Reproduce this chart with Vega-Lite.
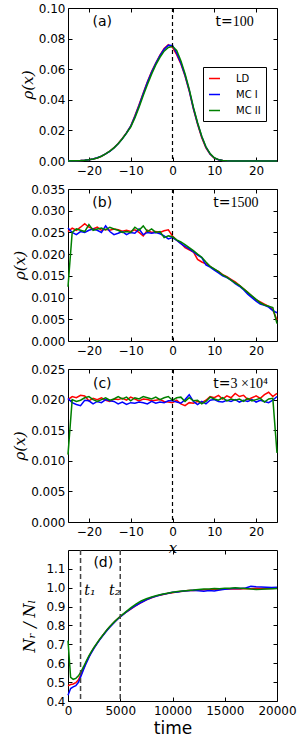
{
"$schema": "https://vega.github.io/schema/vega-lite/v6.json",
"background": "white",
"padding": {"left": 12, "top": 1, "right": 0, "bottom": 0},
"bounds": "flush",
"spacing": 28,
"resolve": {"scale": {"color": "independent"}, "legend": {"color": "independent"}},
"config": {
  "view": {"stroke": "black", "strokeWidth": 1},
  "axis": {"grid": false, "domain": false, "tickColor": "black", "tickSize": -4, "tickWidth": 1, "labelFont": "DejaVu Sans", "labelFontSize": 12, "labelColor": "black", "titleColor": "black", "titleFontWeight": "normal", "labelFlush": false, "labelOverlap": false, "labelBound": false},
  "axisX": {"labelPadding": 8},
  "axisY": {"labelPadding": 7, "titlePadding": 3, "titleFont": "DejaVu Serif", "titleFontStyle": "italic", "titleFontSize": 15}
},
"datasets": {
  "a": [
    {"x": -25, "LD": 0, "MC I": 0, "MC II": 0},
    {"x": -24, "LD": 0.0001, "MC I": 0.0001, "MC II": 0.0001},
    {"x": -23, "LD": 0.0002, "MC I": 0.0002, "MC II": 0.0002},
    {"x": -22, "LD": 0.0003, "MC I": 0.0003, "MC II": 0.0003},
    {"x": -21, "LD": 0.0005, "MC I": 0.0005, "MC II": 0.0005},
    {"x": -20, "LD": 0.0008, "MC I": 0.0008, "MC II": 0.0008},
    {"x": -19, "LD": 0.0013, "MC I": 0.0013, "MC II": 0.0013},
    {"x": -18, "LD": 0.0020, "MC I": 0.0021, "MC II": 0.0020},
    {"x": -17, "LD": 0.0031, "MC I": 0.0032, "MC II": 0.0031},
    {"x": -16, "LD": 0.0046, "MC I": 0.0046, "MC II": 0.0046},
    {"x": -15, "LD": 0.0064, "MC I": 0.0063, "MC II": 0.0064},
    {"x": -14, "LD": 0.0087, "MC I": 0.0085, "MC II": 0.0086},
    {"x": -13, "LD": 0.0115, "MC I": 0.0112, "MC II": 0.0113},
    {"x": -12, "LD": 0.0148, "MC I": 0.0145, "MC II": 0.0146},
    {"x": -11, "LD": 0.0185, "MC I": 0.0183, "MC II": 0.0182},
    {"x": -10, "LD": 0.0228, "MC I": 0.0227, "MC II": 0.0222},
    {"x": -9, "LD": 0.0295, "MC I": 0.0290, "MC II": 0.0282},
    {"x": -8, "LD": 0.0368, "MC I": 0.0362, "MC II": 0.0352},
    {"x": -7, "LD": 0.0445, "MC I": 0.0440, "MC II": 0.0428},
    {"x": -6, "LD": 0.0518, "MC I": 0.0515, "MC II": 0.0500},
    {"x": -5, "LD": 0.0585, "MC I": 0.0580, "MC II": 0.0568},
    {"x": -4, "LD": 0.0640, "MC I": 0.0638, "MC II": 0.0628},
    {"x": -3, "LD": 0.0692, "MC I": 0.0688, "MC II": 0.0678},
    {"x": -2, "LD": 0.0735, "MC I": 0.0730, "MC II": 0.0718},
    {"x": -1, "LD": 0.0760, "MC I": 0.0757, "MC II": 0.0742},
    {"x": 0, "LD": 0.0742, "MC I": 0.0755, "MC II": 0.0750},
    {"x": 1, "LD": 0.0695, "MC I": 0.0705, "MC II": 0.0722},
    {"x": 2, "LD": 0.0635, "MC I": 0.0640, "MC II": 0.0655},
    {"x": 3, "LD": 0.0555, "MC I": 0.0560, "MC II": 0.0570},
    {"x": 4, "LD": 0.0458, "MC I": 0.0462, "MC II": 0.0470},
    {"x": 5, "LD": 0.0340, "MC I": 0.0345, "MC II": 0.0352},
    {"x": 6, "LD": 0.0240, "MC I": 0.0245, "MC II": 0.0250},
    {"x": 7, "LD": 0.0152, "MC I": 0.0158, "MC II": 0.0162},
    {"x": 8, "LD": 0.0086, "MC I": 0.0090, "MC II": 0.0093},
    {"x": 9, "LD": 0.0044, "MC I": 0.0046, "MC II": 0.0048},
    {"x": 10, "LD": 0.0019, "MC I": 0.0020, "MC II": 0.0021},
    {"x": 11, "LD": 0.0008, "MC I": 0.0008, "MC II": 0.0009},
    {"x": 12, "LD": 0.0003, "MC I": 0.0003, "MC II": 0.0003},
    {"x": 13, "LD": 0.0001, "MC I": 0.0001, "MC II": 0.0001},
    {"x": 14, "LD": 0, "MC I": 0, "MC II": 0},
    {"x": 20, "LD": 0, "MC I": 0, "MC II": 0},
    {"x": 25, "LD": 0, "MC I": 0, "MC II": 0}
  ],
  "b": [
    {"x": -25, "LD": 0.0252, "MC I": 0.0260, "MC II": 0.0125},
    {"x": -24, "LD": 0.0260, "MC I": 0.0250, "MC II": 0.0250},
    {"x": -23, "LD": 0.0255, "MC I": 0.0245, "MC II": 0.0258},
    {"x": -22, "LD": 0.0262, "MC I": 0.0252, "MC II": 0.0255},
    {"x": -21, "LD": 0.0270, "MC I": 0.0250, "MC II": 0.0252},
    {"x": -20, "LD": 0.0262, "MC I": 0.0255, "MC II": 0.0268},
    {"x": -19, "LD": 0.0258, "MC I": 0.0258, "MC II": 0.0255},
    {"x": -18, "LD": 0.0262, "MC I": 0.0255, "MC II": 0.0258},
    {"x": -17, "LD": 0.0255, "MC I": 0.0250, "MC II": 0.0260},
    {"x": -16, "LD": 0.0257, "MC I": 0.0265, "MC II": 0.0256},
    {"x": -15, "LD": 0.0255, "MC I": 0.0252, "MC II": 0.0262},
    {"x": -14, "LD": 0.0258, "MC I": 0.0245, "MC II": 0.0258},
    {"x": -13, "LD": 0.0256, "MC I": 0.0248, "MC II": 0.0255},
    {"x": -12, "LD": 0.0253, "MC I": 0.0252, "MC II": 0.0250},
    {"x": -11, "LD": 0.0255, "MC I": 0.0245, "MC II": 0.0252},
    {"x": -10, "LD": 0.0252, "MC I": 0.0250, "MC II": 0.0250},
    {"x": -9, "LD": 0.0256, "MC I": 0.0248, "MC II": 0.0262},
    {"x": -8, "LD": 0.0250, "MC I": 0.0258, "MC II": 0.0255},
    {"x": -7, "LD": 0.0242, "MC I": 0.0245, "MC II": 0.0265},
    {"x": -6, "LD": 0.0255, "MC I": 0.0250, "MC II": 0.0252},
    {"x": -5, "LD": 0.0250, "MC I": 0.0248, "MC II": 0.0258},
    {"x": -4, "LD": 0.0252, "MC I": 0.0250, "MC II": 0.0250},
    {"x": -3, "LD": 0.0250, "MC I": 0.0247, "MC II": 0.0252},
    {"x": -2, "LD": 0.0254, "MC I": 0.0242, "MC II": 0.0238},
    {"x": -1, "LD": 0.0256, "MC I": 0.0235, "MC II": 0.0242},
    {"x": 0, "LD": 0.0242, "MC I": 0.0238, "MC II": 0.0240},
    {"x": 1, "LD": 0.0232, "MC I": 0.0232, "MC II": 0.0233},
    {"x": 2, "LD": 0.0225, "MC I": 0.0224, "MC II": 0.0228},
    {"x": 3, "LD": 0.0215, "MC I": 0.0218, "MC II": 0.0222},
    {"x": 4, "LD": 0.0210, "MC I": 0.0212, "MC II": 0.0215},
    {"x": 5, "LD": 0.0205, "MC I": 0.0205, "MC II": 0.0208},
    {"x": 6, "LD": 0.0188, "MC I": 0.0198, "MC II": 0.0200},
    {"x": 7, "LD": 0.0182, "MC I": 0.0192, "MC II": 0.0193},
    {"x": 8, "LD": 0.0178, "MC I": 0.0175, "MC II": 0.0182},
    {"x": 9, "LD": 0.0172, "MC I": 0.0170, "MC II": 0.0172},
    {"x": 10, "LD": 0.0165, "MC I": 0.0163, "MC II": 0.0166},
    {"x": 11, "LD": 0.0160, "MC I": 0.0157, "MC II": 0.0160},
    {"x": 12, "LD": 0.0153, "MC I": 0.0150, "MC II": 0.0152},
    {"x": 13, "LD": 0.0148, "MC I": 0.0146, "MC II": 0.0147},
    {"x": 14, "LD": 0.0142, "MC I": 0.0140, "MC II": 0.0140},
    {"x": 15, "LD": 0.0136, "MC I": 0.0132, "MC II": 0.0134},
    {"x": 16, "LD": 0.0128, "MC I": 0.0126, "MC II": 0.0128},
    {"x": 17, "LD": 0.0120, "MC I": 0.0118, "MC II": 0.0120},
    {"x": 18, "LD": 0.0112, "MC I": 0.0108, "MC II": 0.0112},
    {"x": 19, "LD": 0.0103, "MC I": 0.0100, "MC II": 0.0104},
    {"x": 20, "LD": 0.0095, "MC I": 0.0092, "MC II": 0.0096},
    {"x": 21, "LD": 0.0090, "MC I": 0.0085, "MC II": 0.0088},
    {"x": 22, "LD": 0.0085, "MC I": 0.0082, "MC II": 0.0083},
    {"x": 23, "LD": 0.0080, "MC I": 0.0078, "MC II": 0.0080},
    {"x": 24, "LD": 0.0072, "MC I": 0.0070, "MC II": 0.0077},
    {"x": 25, "LD": 0.0048, "MC I": 0.0065, "MC II": 0.0040}
  ],
  "c": [
    {"x": -25, "LD": 0.0200, "MC I": 0.0202, "MC II": 0.0110},
    {"x": -24, "LD": 0.0205, "MC I": 0.0195, "MC II": 0.0200},
    {"x": -23, "LD": 0.0203, "MC I": 0.0192, "MC II": 0.0197},
    {"x": -22, "LD": 0.0207, "MC I": 0.0190, "MC II": 0.0199},
    {"x": -21, "LD": 0.0206, "MC I": 0.0199, "MC II": 0.0203},
    {"x": -20, "LD": 0.0198, "MC I": 0.0198, "MC II": 0.0205},
    {"x": -19, "LD": 0.0202, "MC I": 0.0193, "MC II": 0.0200},
    {"x": -18, "LD": 0.0200, "MC I": 0.0197, "MC II": 0.0197},
    {"x": -17, "LD": 0.0203, "MC I": 0.0195, "MC II": 0.0200},
    {"x": -16, "LD": 0.0199, "MC I": 0.0200, "MC II": 0.0203},
    {"x": -15, "LD": 0.0197, "MC I": 0.0198, "MC II": 0.0199},
    {"x": -14, "LD": 0.0201, "MC I": 0.0197, "MC II": 0.0201},
    {"x": -13, "LD": 0.0200, "MC I": 0.0193, "MC II": 0.0205},
    {"x": -12, "LD": 0.0202, "MC I": 0.0196, "MC II": 0.0201},
    {"x": -11, "LD": 0.0199, "MC I": 0.0192, "MC II": 0.0204},
    {"x": -10, "LD": 0.0204, "MC I": 0.0195, "MC II": 0.0198},
    {"x": -9, "LD": 0.0201, "MC I": 0.0194, "MC II": 0.0203},
    {"x": -8, "LD": 0.0198, "MC I": 0.0196, "MC II": 0.0201},
    {"x": -7, "LD": 0.0201, "MC I": 0.0195, "MC II": 0.0205},
    {"x": -6, "LD": 0.0200, "MC I": 0.0193, "MC II": 0.0203},
    {"x": -5, "LD": 0.0198, "MC I": 0.0197, "MC II": 0.0201},
    {"x": -4, "LD": 0.0199, "MC I": 0.0194, "MC II": 0.0204},
    {"x": -3, "LD": 0.0200, "MC I": 0.0196, "MC II": 0.0200},
    {"x": -2, "LD": 0.0197, "MC I": 0.0195, "MC II": 0.0203},
    {"x": -1, "LD": 0.0196, "MC I": 0.0198, "MC II": 0.0205},
    {"x": 0, "LD": 0.0195, "MC I": 0.0198, "MC II": 0.0199},
    {"x": 1, "LD": 0.0199, "MC I": 0.0196, "MC II": 0.0203},
    {"x": 2, "LD": 0.0193, "MC I": 0.0194, "MC II": 0.0204},
    {"x": 3, "LD": 0.0190, "MC I": 0.0200, "MC II": 0.0197},
    {"x": 4, "LD": 0.0195, "MC I": 0.0208, "MC II": 0.0203},
    {"x": 5, "LD": 0.0194, "MC I": 0.0197, "MC II": 0.0198},
    {"x": 6, "LD": 0.0197, "MC I": 0.0192, "MC II": 0.0199},
    {"x": 7, "LD": 0.0195, "MC I": 0.0197, "MC II": 0.0193},
    {"x": 8, "LD": 0.0199, "MC I": 0.0193, "MC II": 0.0197},
    {"x": 9, "LD": 0.0205, "MC I": 0.0199, "MC II": 0.0204},
    {"x": 10, "LD": 0.0203, "MC I": 0.0200, "MC II": 0.0201},
    {"x": 11, "LD": 0.0207, "MC I": 0.0197, "MC II": 0.0199},
    {"x": 12, "LD": 0.0201, "MC I": 0.0196, "MC II": 0.0203},
    {"x": 13, "LD": 0.0206, "MC I": 0.0199, "MC II": 0.0198},
    {"x": 14, "LD": 0.0203, "MC I": 0.0197, "MC II": 0.0201},
    {"x": 15, "LD": 0.0210, "MC I": 0.0200, "MC II": 0.0199},
    {"x": 16, "LD": 0.0205, "MC I": 0.0196, "MC II": 0.0201},
    {"x": 17, "LD": 0.0207, "MC I": 0.0199, "MC II": 0.0197},
    {"x": 18, "LD": 0.0200, "MC I": 0.0197, "MC II": 0.0202},
    {"x": 19, "LD": 0.0203, "MC I": 0.0200, "MC II": 0.0198},
    {"x": 20, "LD": 0.0206, "MC I": 0.0196, "MC II": 0.0200},
    {"x": 21, "LD": 0.0202, "MC I": 0.0199, "MC II": 0.0202},
    {"x": 22, "LD": 0.0208, "MC I": 0.0197, "MC II": 0.0196},
    {"x": 23, "LD": 0.0212, "MC I": 0.0195, "MC II": 0.0201},
    {"x": 24, "LD": 0.0205, "MC I": 0.0199, "MC II": 0.0202},
    {"x": 25, "LD": 0.0210, "MC I": 0.0205, "MC II": 0.0113}
  ],
  "d": [
    {"t": 0, "LD": 0.480, "MC I": 0.430, "MC II": 0.720},
    {"t": 250, "LD": 0.487, "MC I": 0.466, "MC II": 0.525},
    {"t": 500, "LD": 0.490, "MC I": 0.475, "MC II": 0.515},
    {"t": 750, "LD": 0.497, "MC I": 0.481, "MC II": 0.520},
    {"t": 1000, "LD": 0.512, "MC I": 0.499, "MC II": 0.533},
    {"t": 1250, "LD": 0.542, "MC I": 0.533, "MC II": 0.556},
    {"t": 1500, "LD": 0.574, "MC I": 0.568, "MC II": 0.583},
    {"t": 1750, "LD": 0.606, "MC I": 0.601, "MC II": 0.612},
    {"t": 2000, "LD": 0.634, "MC I": 0.631, "MC II": 0.639},
    {"t": 2250, "LD": 0.660, "MC I": 0.657, "MC II": 0.663},
    {"t": 2500, "LD": 0.683, "MC I": 0.680, "MC II": 0.685},
    {"t": 2750, "LD": 0.703, "MC I": 0.701, "MC II": 0.705},
    {"t": 3000, "LD": 0.724, "MC I": 0.721, "MC II": 0.725},
    {"t": 3250, "LD": 0.742, "MC I": 0.740, "MC II": 0.743},
    {"t": 3500, "LD": 0.760, "MC I": 0.758, "MC II": 0.761},
    {"t": 3750, "LD": 0.778, "MC I": 0.775, "MC II": 0.779},
    {"t": 4000, "LD": 0.793, "MC I": 0.791, "MC II": 0.795},
    {"t": 4250, "LD": 0.808, "MC I": 0.806, "MC II": 0.809},
    {"t": 4500, "LD": 0.822, "MC I": 0.820, "MC II": 0.823},
    {"t": 4750, "LD": 0.835, "MC I": 0.833, "MC II": 0.836},
    {"t": 5000, "LD": 0.847, "MC I": 0.845, "MC II": 0.848},
    {"t": 5500, "LD": 0.868, "MC I": 0.868, "MC II": 0.871},
    {"t": 6000, "LD": 0.887, "MC I": 0.888, "MC II": 0.893},
    {"t": 6500, "LD": 0.905, "MC I": 0.906, "MC II": 0.913},
    {"t": 7000, "LD": 0.921, "MC I": 0.922, "MC II": 0.930},
    {"t": 7500, "LD": 0.936, "MC I": 0.936, "MC II": 0.942},
    {"t": 8000, "LD": 0.947, "MC I": 0.948, "MC II": 0.951},
    {"t": 8500, "LD": 0.957, "MC I": 0.956, "MC II": 0.959},
    {"t": 9000, "LD": 0.963, "MC I": 0.964, "MC II": 0.966},
    {"t": 9500, "LD": 0.970, "MC I": 0.969, "MC II": 0.971},
    {"t": 10000, "LD": 0.974, "MC I": 0.976, "MC II": 0.976},
    {"t": 10500, "LD": 0.979, "MC I": 0.978, "MC II": 0.980},
    {"t": 11000, "LD": 0.981, "MC I": 0.983, "MC II": 0.983},
    {"t": 11500, "LD": 0.985, "MC I": 0.984, "MC II": 0.986},
    {"t": 12000, "LD": 0.986, "MC I": 0.987, "MC II": 0.988},
    {"t": 12500, "LD": 0.987, "MC I": 0.984, "MC II": 0.991},
    {"t": 13000, "LD": 0.990, "MC I": 0.982, "MC II": 0.993},
    {"t": 13500, "LD": 0.989, "MC I": 0.985, "MC II": 0.994},
    {"t": 14000, "LD": 0.992, "MC I": 0.983, "MC II": 0.996},
    {"t": 14500, "LD": 0.991, "MC I": 0.988, "MC II": 0.995},
    {"t": 15000, "LD": 0.994, "MC I": 0.992, "MC II": 0.997},
    {"t": 15500, "LD": 0.993, "MC I": 0.995, "MC II": 0.998},
    {"t": 16000, "LD": 0.995, "MC I": 0.997, "MC II": 1.000},
    {"t": 16500, "LD": 0.994, "MC I": 0.996, "MC II": 0.998},
    {"t": 17000, "LD": 0.996, "MC I": 0.999, "MC II": 0.996},
    {"t": 17500, "LD": 0.995, "MC I": 1.008, "MC II": 0.993},
    {"t": 18000, "LD": 0.997, "MC I": 1.005, "MC II": 0.991},
    {"t": 18500, "LD": 0.996, "MC I": 1.004, "MC II": 0.992},
    {"t": 19000, "LD": 0.997, "MC I": 1.003, "MC II": 0.994},
    {"t": 19500, "LD": 0.996, "MC I": 1.001, "MC II": 0.995},
    {"t": 20000, "LD": 0.998, "MC I": 1.002, "MC II": 0.996}
  ]
},
"vconcat": [
  {
    "width": 209, "height": 153,
    "resolve": {"axis": {"x": "independent", "y": "independent"}},
    "layer": [
      {
        "data": {"name": "a"},
        "transform": [{"fold": ["LD", "MC I", "MC II"], "as": ["series", "rho"]}],
        "mark": {"type": "line", "strokeWidth": 1.5},
        "encoding": {
          "x": {"field": "x", "type": "quantitative", "scale": {"domain": [-25, 25], "nice": false, "zero": false}, "axis": {"values": [-20, -10, 0, 10, 20], "title": null}},
          "y": {"field": "rho", "type": "quantitative", "scale": {"domain": [0, 0.1], "nice": false}, "axis": {"values": [0, 0.02, 0.04, 0.06, 0.08, 0.1], "format": ".2f", "title": "ρ(x)"}},
          "color": {"field": "series", "type": "nominal", "scale": {"domain": ["LD", "MC I", "MC II"], "range": ["#ff0000", "#0000ff", "#008000"]},
            "legend": {"title": null, "orient": "none", "legendX": 135, "legendY": 59, "symbolType": "stroke", "symbolStrokeWidth": 1.5, "symbolSize": 121, "labelFont": "DejaVu Sans", "labelFontSize": 10, "labelColor": "black", "labelOffset": 15, "rowPadding": 4, "padding": 5, "strokeColor": "black", "fillColor": "white", "cornerRadius": 0}}
        }
      },
      {
        "data": {"values": [{"x": 0}]},
        "mark": {"type": "rule", "color": "black", "strokeWidth": 1.2, "strokeDash": [4, 3]},
        "encoding": {"x": {"field": "x", "type": "quantitative", "scale": {"domain": [-25, 25], "nice": false, "zero": false}, "axis": {"orient": "top", "values": [-20, -10, 0, 10, 20], "labels": false, "title": null}}}
      },
      {
        "data": {"values": [{"x": -16.8, "y": 0.0907, "label": "(a)"}]},
        "mark": {"type": "text", "font": "DejaVu Sans", "fontSize": 14, "align": "center", "baseline": "middle", "color": "black"},
        "encoding": {
          "x": {"field": "x", "type": "quantitative", "scale": {"domain": [-25, 25], "nice": false, "zero": false}, "axis": null},
          "y": {"field": "y", "type": "quantitative", "scale": {"domain": [0, 0.1], "nice": false}, "axis": {"orient": "right", "values": [0, 0.02, 0.04, 0.06, 0.08, 0.1], "labels": false, "title": null}},
          "text": {"field": "label"}
        }
      },
      {
        "data": {"values": [{"x": 14.4, "y": 0.0907, "label": "t="}]},
        "mark": {"type": "text", "font": "DejaVu Sans", "fontSize": 14, "align": "right", "baseline": "middle", "color": "black"},
        "encoding": {
          "x": {"field": "x", "type": "quantitative", "scale": {"domain": [-25, 25], "nice": false, "zero": false}, "axis": null},
          "y": {"field": "y", "type": "quantitative", "scale": {"domain": [0, 0.1], "nice": false}, "axis": null},
          "text": {"field": "label"}
        }
      },
      {
        "data": {"values": [{"x": 14.4, "y": 0.0907, "label": "100"}]},
        "mark": {"type": "text", "font": "Liberation Serif", "fontSize": 14, "align": "left", "baseline": "middle", "color": "black"},
        "encoding": {
          "x": {"field": "x", "type": "quantitative", "scale": {"domain": [-25, 25], "nice": false, "zero": false}, "axis": null},
          "y": {"field": "y", "type": "quantitative", "scale": {"domain": [0, 0.1], "nice": false}, "axis": null},
          "text": {"field": "label"}
        }
      }
    ]
  },
  {
    "width": 209, "height": 152,
    "resolve": {"axis": {"x": "independent", "y": "independent"}},
    "layer": [
      {
        "data": {"name": "b"},
        "transform": [{"fold": ["LD", "MC I", "MC II"], "as": ["series", "rho"]}],
        "mark": {"type": "line", "strokeWidth": 1.5},
        "encoding": {
          "x": {"field": "x", "type": "quantitative", "scale": {"domain": [-25, 25], "nice": false, "zero": false}, "axis": {"values": [-20, -10, 0, 10, 20], "title": null}},
          "y": {"field": "rho", "type": "quantitative", "scale": {"domain": [0, 0.035], "nice": false}, "axis": {"values": [0, 0.005, 0.01, 0.015, 0.02, 0.025, 0.03, 0.035], "format": ".3f", "title": "ρ(x)"}},
          "color": {"field": "series", "type": "nominal", "scale": {"domain": ["LD", "MC I", "MC II"], "range": ["#ff0000", "#0000ff", "#008000"]}, "legend": null}
        }
      },
      {
        "data": {"values": [{"x": 0}]},
        "mark": {"type": "rule", "color": "black", "strokeWidth": 1.2, "strokeDash": [4, 3]},
        "encoding": {"x": {"field": "x", "type": "quantitative", "scale": {"domain": [-25, 25], "nice": false, "zero": false}, "axis": {"orient": "top", "values": [-20, -10, 0, 10, 20], "labels": false, "title": null}}}
      },
      {
        "data": {"values": [{"x": -16.8, "y": 0.0317, "label": "(b)"}]},
        "mark": {"type": "text", "font": "DejaVu Sans", "fontSize": 14, "align": "center", "baseline": "middle", "color": "black"},
        "encoding": {
          "x": {"field": "x", "type": "quantitative", "scale": {"domain": [-25, 25], "nice": false, "zero": false}, "axis": null},
          "y": {"field": "y", "type": "quantitative", "scale": {"domain": [0, 0.035], "nice": false}, "axis": {"orient": "right", "values": [0, 0.005, 0.01, 0.015, 0.02, 0.025, 0.03, 0.035], "labels": false, "title": null}},
          "text": {"field": "label"}
        }
      },
      {
        "data": {"values": [{"x": 13.9, "y": 0.0317, "label": "t="}]},
        "mark": {"type": "text", "font": "DejaVu Sans", "fontSize": 14, "align": "right", "baseline": "middle", "color": "black"},
        "encoding": {
          "x": {"field": "x", "type": "quantitative", "scale": {"domain": [-25, 25], "nice": false, "zero": false}, "axis": null},
          "y": {"field": "y", "type": "quantitative", "scale": {"domain": [0, 0.035], "nice": false}, "axis": null},
          "text": {"field": "label"}
        }
      },
      {
        "data": {"values": [{"x": 13.9, "y": 0.0317, "label": "1500"}]},
        "mark": {"type": "text", "font": "Liberation Serif", "fontSize": 14, "align": "left", "baseline": "middle", "color": "black"},
        "encoding": {
          "x": {"field": "x", "type": "quantitative", "scale": {"domain": [-25, 25], "nice": false, "zero": false}, "axis": null},
          "y": {"field": "y", "type": "quantitative", "scale": {"domain": [0, 0.035], "nice": false}, "axis": null},
          "text": {"field": "label"}
        }
      }
    ]
  },
  {
    "width": 209, "height": 153,
    "resolve": {"axis": {"x": "independent", "y": "independent"}},
    "layer": [
      {
        "data": {"name": "c"},
        "transform": [{"fold": ["LD", "MC I", "MC II"], "as": ["series", "rho"]}],
        "mark": {"type": "line", "strokeWidth": 1.5},
        "encoding": {
          "x": {"field": "x", "type": "quantitative", "scale": {"domain": [-25, 25], "nice": false, "zero": false}, "axis": {"values": [-20, -10, 0, 10, 20], "title": "x", "titleFont": "DejaVu Serif", "titleFontStyle": "italic", "titleFontSize": 15, "titlePadding": 3}},
          "y": {"field": "rho", "type": "quantitative", "scale": {"domain": [0, 0.025], "nice": false}, "axis": {"values": [0, 0.005, 0.01, 0.015, 0.02, 0.025], "format": ".3f", "title": "ρ(x)"}},
          "color": {"field": "series", "type": "nominal", "scale": {"domain": ["LD", "MC I", "MC II"], "range": ["#ff0000", "#0000ff", "#008000"]}, "legend": null}
        }
      },
      {
        "data": {"values": [{"x": 0}]},
        "mark": {"type": "rule", "color": "black", "strokeWidth": 1.2, "strokeDash": [4, 3]},
        "encoding": {"x": {"field": "x", "type": "quantitative", "scale": {"domain": [-25, 25], "nice": false, "zero": false}, "axis": {"orient": "top", "values": [-20, -10, 0, 10, 20], "labels": false, "title": null}}}
      },
      {
        "data": {"values": [{"x": -16.8, "y": 0.0226, "label": "(c)"}]},
        "mark": {"type": "text", "font": "DejaVu Sans", "fontSize": 14, "align": "center", "baseline": "middle", "color": "black"},
        "encoding": {
          "x": {"field": "x", "type": "quantitative", "scale": {"domain": [-25, 25], "nice": false, "zero": false}, "axis": null},
          "y": {"field": "y", "type": "quantitative", "scale": {"domain": [0, 0.025], "nice": false}, "axis": {"orient": "right", "values": [0, 0.005, 0.01, 0.015, 0.02, 0.025], "labels": false, "title": null}},
          "text": {"field": "label"}
        }
      },
      {
        "data": {"values": [{"x": 13.9, "y": 0.0226, "label": "t="}]},
        "mark": {"type": "text", "font": "DejaVu Sans", "fontSize": 14, "align": "right", "baseline": "middle", "color": "black"},
        "encoding": {
          "x": {"field": "x", "type": "quantitative", "scale": {"domain": [-25, 25], "nice": false, "zero": false}, "axis": null},
          "y": {"field": "y", "type": "quantitative", "scale": {"domain": [0, 0.025], "nice": false}, "axis": null},
          "text": {"field": "label"}
        }
      },
      {
        "data": {"values": [{"x": 13.9, "y": 0.0226, "label": "3 ×10⁴"}]},
        "mark": {"type": "text", "font": "Liberation Serif", "fontSize": 14, "align": "left", "baseline": "middle", "color": "black"},
        "encoding": {
          "x": {"field": "x", "type": "quantitative", "scale": {"domain": [-25, 25], "nice": false, "zero": false}, "axis": null},
          "y": {"field": "y", "type": "quantitative", "scale": {"domain": [0, 0.025], "nice": false}, "axis": null},
          "text": {"field": "label"}
        }
      }
    ]
  },
  {
    "width": 209, "height": 151,
    "resolve": {"axis": {"x": "independent", "y": "independent"}},
    "layer": [
      {
        "data": {"name": "d"},
        "transform": [{"fold": ["LD", "MC I", "MC II"], "as": ["series", "ratio"]}],
        "mark": {"type": "line", "strokeWidth": 1.5},
        "encoding": {
          "x": {"field": "t", "type": "quantitative", "scale": {"domain": [0, 20000], "nice": false, "zero": false}, "axis": {"values": [0, 5000, 10000, 15000, 20000], "format": "d", "title": "time", "titleFont": "DejaVu Sans", "titleFontSize": 17, "titlePadding": 4}},
          "y": {"field": "ratio", "type": "quantitative", "scale": {"domain": [0.4, 1.2], "nice": false, "zero": false}, "axis": {"values": [0.4, 0.5, 0.6, 0.7, 0.8, 0.9, 1.0, 1.1], "format": ".1f", "title": "Nᵣ / Nₗ", "titlePadding": 8, "titleFontSize": 16}},
          "color": {"field": "series", "type": "nominal", "scale": {"domain": ["LD", "MC I", "MC II"], "range": ["#ff0000", "#0000ff", "#008000"]}, "legend": null}
        }
      },
      {
        "data": {"values": [{"t": 1200}, {"t": 5000}]},
        "mark": {"type": "rule", "color": "#444444", "strokeWidth": 1.5, "strokeDash": [5, 3]},
        "encoding": {"x": {"field": "t", "type": "quantitative", "scale": {"domain": [0, 20000], "nice": false, "zero": false}, "axis": {"orient": "top", "values": [5000, 10000, 15000], "labels": false, "title": null}}}
      },
      {
        "data": {"values": [{"t": 3378, "y": 1.13, "label": "(d)"}]},
        "mark": {"type": "text", "font": "DejaVu Sans", "fontSize": 14, "align": "center", "baseline": "middle", "color": "black"},
        "encoding": {
          "x": {"field": "t", "type": "quantitative", "scale": {"domain": [0, 20000], "nice": false, "zero": false}, "axis": null},
          "y": {"field": "y", "type": "quantitative", "scale": {"domain": [0.4, 1.2], "nice": false, "zero": false}, "axis": {"orient": "right", "values": [0.5, 0.6, 0.7, 0.8, 0.9, 1.0, 1.1], "labels": false, "title": null}},
          "text": {"field": "label"}
        }
      },
      {
        "data": {"values": [{"t": 2105, "y": 0.984, "label": "t₁"}, {"t": 4470, "y": 0.984, "label": "t₂"}]},
        "mark": {"type": "text", "font": "DejaVu Serif", "fontStyle": "italic", "fontSize": 14, "align": "center", "baseline": "middle", "color": "black"},
        "encoding": {
          "x": {"field": "t", "type": "quantitative", "scale": {"domain": [0, 20000], "nice": false, "zero": false}, "axis": null},
          "y": {"field": "y", "type": "quantitative", "scale": {"domain": [0.4, 1.2], "nice": false, "zero": false}, "axis": null},
          "text": {"field": "label"}
        }
      }
    ]
  }
]
}
